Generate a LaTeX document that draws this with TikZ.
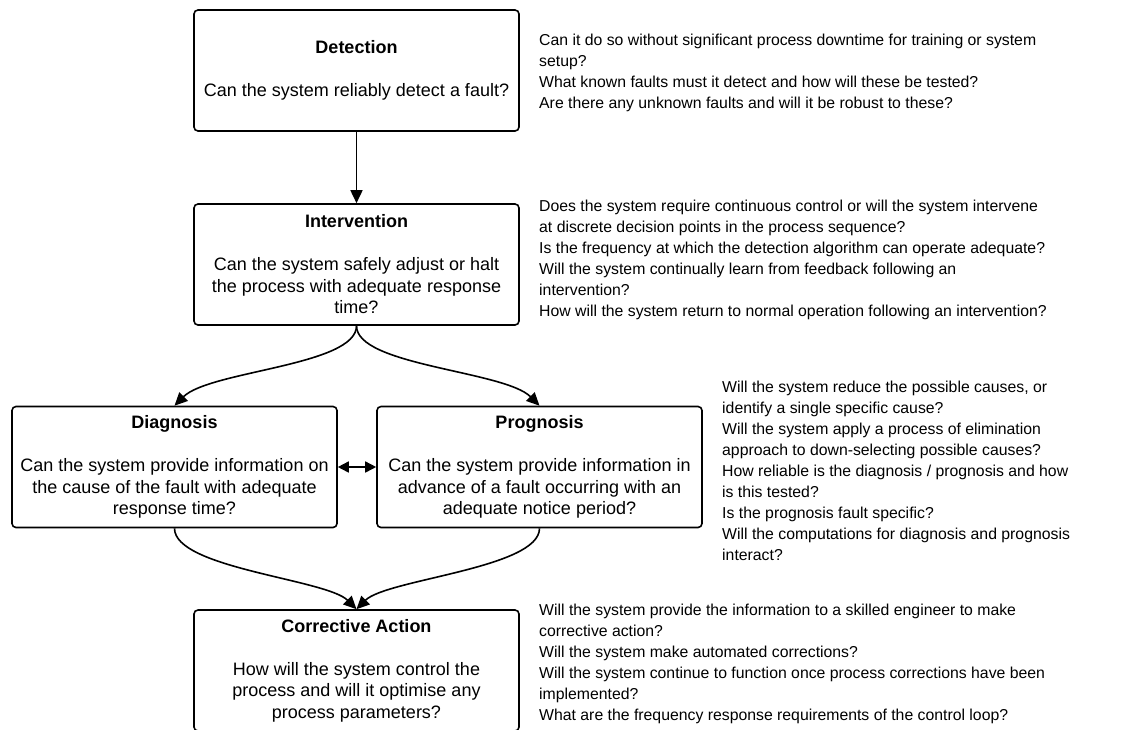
\documentclass[tikz,border=0pt]{standalone}
\usepackage{fontspec}
\setmainfont{Liberation Sans}
\usetikzlibrary{arrows.meta,calc}
\begin{document}
\begin{tikzpicture}[x=1pt,y=-1pt,
  stage/.style={draw, line width=1.6pt, rounded corners=4pt,
    minimum width=325pt, minimum height=121pt, align=center,
    inner sep=0pt, font=\fontsize{18}{21.5}\selectfont},
  notes/.style={anchor=north west, align=left, inner sep=0pt,
    font=\fontsize{15.8}{21}\selectfont},
  flow/.style={line width=1.6pt, -{Triangle[length=13pt,width=12pt]}},
  twoway/.style={line width=1.6pt,
    {Triangle[length=11pt,width=11pt]}-{Triangle[length=11pt,width=11pt]}}
]
\useasboundingbox (0,0) rectangle (1134,729);

% stages of the fault-handling chain
\node[stage] (det) at (356.5,70.5)
  {\textbf{Detection}\\[21.5pt]Can the system reliably detect a fault?};
\node[stage] (int) at (356.5,264.5)
  {\textbf{Intervention}\\[21.5pt]Can the system safely adjust or halt\\
   the process with adequate response\\ time?};
\node[stage] (diag) at (174.5,467)
  {\textbf{Diagnosis}\\[21.5pt]Can the system provide information on\\
   the cause of the fault with adequate\\ response time?};
\node[stage] (prog) at (539.5,467)
  {\textbf{Prognosis}\\[21.5pt]Can the system provide information in\\
   advance of a fault occurring with an\\ adequate notice period?};
\node[stage] (corr) at (356.5,670.5)
  {\textbf{Corrective Action}\\[21.5pt]How will the system control the\\
   process and will it optimise any\\ process parameters?};

% guiding questions beside each stage
\node[notes] (n1) at (539,33.5) {Can it do so without significant process downtime for training or system\\
setup?\\
What known faults must it detect and how will these be tested?\\
Are there any unknown faults and will it be robust to these?};
\node[notes] (n2) at (539,199.5) {Does the system require continuous control or will the system intervene\\
at discrete decision points in the process sequence?\\
Is the frequency at which the detection algorithm can operate adequate?\\
Will the system continually learn from feedback following an\\
intervention?\\
How will the system return to normal operation following an intervention?};
\node[notes] (n3) at (722,380.5) {Will the system reduce the possible causes, or\\
identify a single specific cause?\\
Will the system apply a process of elimination\\
approach to down-selecting possible causes?\\
How reliable is the diagnosis / prognosis and how\\
is this tested?\\
Is the prognosis fault specific?\\
Will the computations for diagnosis and prognosis\\
interact?};
\node[notes] (n4) at (539,603.5) {Will the system provide the information to a skilled engineer to make\\
corrective action?\\
Will the system make automated corrections?\\
Will the system continue to function once process corrections have been\\
implemented?\\
What are the frequency response requirements of the control loop?};

% connectors
\draw[flow] (det.south) -- (int.north);
\draw[flow] (int.south) .. controls +(0,40) and +(35,-35) .. (diag.north);
\draw[flow] (int.south) .. controls +(0,40) and +(-35,-35) .. (prog.north);
\draw[flow] (diag.south) .. controls +(0,40) and +(-30,-30) .. (corr.north);
\draw[flow] (prog.south) .. controls +(0,40) and +(30,-30) .. (corr.north);
\draw[twoway] (diag.east) -- (prog.west);
\end{tikzpicture}
\end{document}
